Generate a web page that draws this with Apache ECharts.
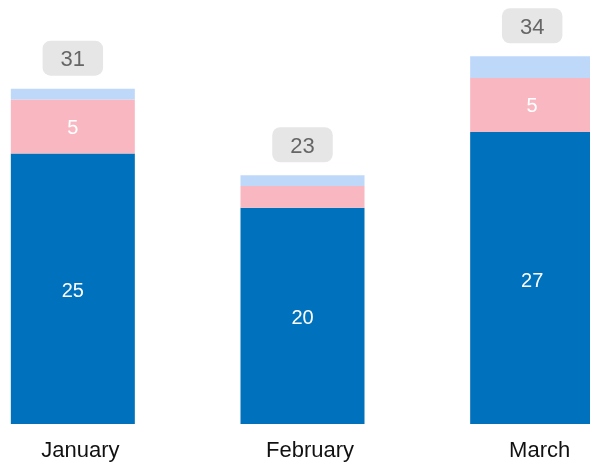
<!DOCTYPE html>
<html>
<head>
<meta charset="utf-8">
<script src="https://cdn.jsdelivr.net/npm/echarts@6/dist/echarts.min.js"></script>
<style>html,body{margin:0;padding:0;background:#fff;overflow:hidden;width:590px;height:462px;position:relative;}#c{position:absolute;left:-42px;top:0;width:689px;height:462px;}</style>
</head>
<body>
<div id="c"></div>
<script>
var categories = ['January', 'February', 'March'];
var seriesA = [25, 20, 27];
var seriesB = [5, 2, 5];
var seriesC = [1, 1, 2];
var totals = [31, 23, 34];

var chart = echarts.init(document.getElementById('c'), null, {renderer: 'canvas'});
var font = 'Liberation Sans, Arial, sans-serif';
function inner(p) { return p.value >= 3 ? String(p.value) : ''; }
chart.setOption({
  animation: false,
  backgroundColor: '#ffffff',
  grid: {left: 0, right: 0, top: 13, bottom: 37, containLabel: false},
  xAxis: {
    type: 'category',
    data: categories,
    axisLine: {show: false},
    axisTick: {show: false},
    axisLabel: {color: '#111', fontSize: 22, fontFamily: font, margin: 15, padding: [1, 0, 0, 15]}
  },
  yAxis: {
    type: 'value', min: 0, max: 38,
    show: false,
    splitLine: {show: false}
  },
  series: [
    {type: 'bar', stack: 't', data: seriesA, barWidth: 124,
     itemStyle: {color: '#0071BC'},
     label: {show: true, position: 'inside', color: '#fff', fontSize: 20, fontFamily: font, offset: [0, 3], formatter: inner}},
    {type: 'bar', stack: 't', data: seriesB, barWidth: 124,
     itemStyle: {color: '#F9B8C1'},
     label: {show: true, position: 'inside', color: '#fff', fontSize: 20, fontFamily: font, offset: [0, 2], formatter: inner}},
    {type: 'bar', stack: 't', data: seriesC, barWidth: 124,
     itemStyle: {color: '#BED8FA'},
     label: {show: true, position: 'top', distance: 13, color: '#666', fontSize: 22, fontFamily: font,
       lineHeight: 22, backgroundColor: '#e6e6e6', borderRadius: 8, padding: [8.5, 18, 4.5, 18],
       formatter: function (p) { return String(totals[p.dataIndex]); }}}
  ]
});
</script>
</body>
</html>
